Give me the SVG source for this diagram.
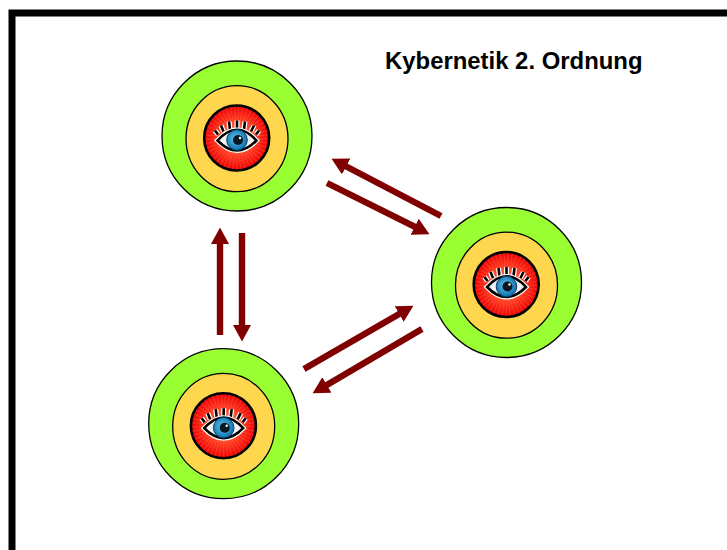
<svg xmlns="http://www.w3.org/2000/svg" width="727" height="550" viewBox="0 0 727 550">
<style>
.r{stroke:#000;stroke-width:1.3}
.a{fill:#9f3}
.b{fill:#ffd74f}
.c{fill:url(#rg);stroke:#000;stroke-width:2.6}
.ar{stroke:#800000;stroke-width:6.4;fill:none;marker-end:url(#h)}
.t{font-family:"Liberation Sans",Arial,sans-serif;font-size:23.9px;font-weight:bold;fill:#000}
</style>
<defs>
<radialGradient id="rg"><stop offset="0" stop-color="#ff7a5a"/><stop offset="0.55" stop-color="#ff3c20"/><stop offset="1" stop-color="#ee0000"/></radialGradient>
<radialGradient id="ir" cx="0.45" cy="0.45"><stop offset="0" stop-color="#6cc8ee"/><stop offset="1" stop-color="#1278b4"/></radialGradient>
<marker id="h" markerUnits="userSpaceOnUse" markerWidth="20" markerHeight="20" refX="2" refY="9" orient="auto"><path d="M0 0L16.500 9L0 18z" fill="#800000"/></marker>
<g id="eye">
<path d="M-22-9L-19-5M-16-14L-13.500-8M-8-18L-7-10M0-19V-10M8-18L7-10M17-14L14-8M22-9L19-5" fill="none" stroke="#fff" stroke-width="5"/>
<path d="M-22-9L-19-5M-16-14L-13.500-8M-8-18L-7-10M0-19V-10M8-18L7-10M17-14L14-8M22-9L19-5" fill="none" stroke="#000" stroke-width="2.600"/>
<path d="M-21.500 1Q0-23 21.500 1Q0 24-21.500 1Z" fill="#fff" stroke="#fff" stroke-width="2"/>
<path d="M-19.500 1Q0-20.500 19.500 1Q0 21-19.500 1Z" fill="#f2f2f2" stroke="#000" stroke-width="2.600"/>
<circle r="10.300" cy="0.500" fill="url(#ir)" stroke="#0a3f66" stroke-width="1"/>
<circle r="5" cx="1" cy="0.500" fill="#0b1a22"/>
<circle r="1.200" cx="3" cy="-1.500" fill="#fff"/>
</g>
<g id="node">
<circle class="r a" r="75"/>
<ellipse class="r b" cy="2.700" rx="51" ry="53"/>
<circle class="c" cx="-0.300" cy="2" r="32.500"/>
<circle cx="-0.300" cy="2" r="18" fill="none" stroke="#fff" stroke-opacity=".1" stroke-width="27" stroke-dasharray="1 1.500"/>
<use href="#eye" y="3.500"/>
</g>
</defs>
<rect width="727" height="550" fill="#fff"/>
<path id="frame" d="M12 550V13H727" fill="none" stroke="#000" stroke-width="7"/>
<g id="n1"><use href="#node" x="237" y="136"/></g>
<g id="n2"><use href="#node" x="506.500" y="282.500"/></g>
<g id="n3"><use href="#node" x="223.700" y="423.700"/></g>
<g id="connectors">
<line class="ar" x1="441" y1="216" x2="344.400" y2="165.500"/>
<line class="ar" x1="327" y1="183" x2="416.500" y2="227.700"/>
<line class="ar" x1="220" y1="335" x2="220" y2="242"/>
<line class="ar" x1="242" y1="233" x2="242" y2="327"/>
<line class="ar" x1="304" y1="369" x2="400.900" y2="313"/>
<line class="ar" x1="422" y1="329" x2="325.100" y2="385.900"/>
</g>
<text class="t" x="385" y="69">Kybernetik 2. Ordnung</text>
</svg>
